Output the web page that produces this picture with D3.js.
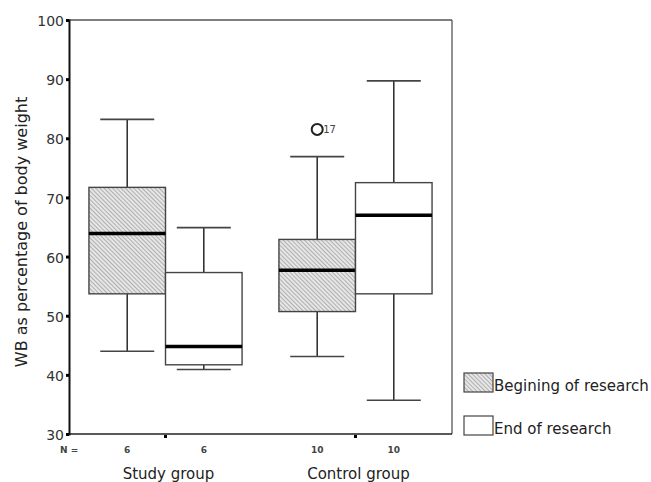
<!DOCTYPE html>
<html><head><meta charset="utf-8">
<script src="https://cdn.jsdelivr.net/npm/d3@7"></script>
<style>body{margin:0;background:#fff}</style>
</head><body>
<svg id="c" width="651" height="482"></svg>
<script>
const groups = ["Study group", "Control group"];
const phases = ["Begining of research", "End of research"];
const counts = [[6, 6], [10, 10]];
// [whiskerLow, Q1, median, Q3, whiskerHigh]
const studyBegin = [44.0, 53.7, 63.9, 71.7, 83.2];
const studyEnd = [40.9, 41.7, 44.8, 57.3, 64.9];
const controlBegin = [43.1, 50.7, 57.7, 62.9, 76.9];
const controlEnd = [35.7, 53.7, 67.0, 72.5, 89.7];
const outliers = [{group: "Control group", phase: "Begining of research", value: 81.5, label: "17"}];
const yTicks = [30, 40, 50, 60, 70, 80, 90, 100];

const stats = [
  {group: groups[0], phase: phases[0], s: studyBegin, n: counts[0][0]},
  {group: groups[0], phase: phases[1], s: studyEnd, n: counts[0][1]},
  {group: groups[1], phase: phases[0], s: controlBegin, n: counts[1][0]},
  {group: groups[1], phase: phases[1], s: controlEnd, n: counts[1][1]}
];

const svg = d3.select("#c");
const L = 69, R = 452, T = 20, B = 434;
const font = "DejaVu Sans, Verdana, sans-serif";

const defs = svg.append("defs");
const pat = defs.append("pattern").attr("id", "hatch").attr("patternUnits", "userSpaceOnUse")
  .attr("width", 3).attr("height", 3).attr("patternTransform", "rotate(-45)");
pat.append("rect").attr("width", 3).attr("height", 3).attr("fill", "#e6e6e6");
pat.append("line").attr("x1", 0).attr("y1", 0).attr("x2", 0).attr("y2", 3)
  .attr("stroke", "#8a8a8a").attr("stroke-width", 1.2);

const x0 = d3.scaleBand().domain(groups).range([L, R]).paddingInner(0.194).paddingOuter(0.105);
const x1 = d3.scaleBand().domain(phases).range([0, x0.bandwidth()]);
const y = d3.scaleLinear().domain([30, 100]).range([B, T]);

// frame
svg.append("line").attr("x1", L).attr("x2", R).attr("y1", T).attr("y2", T).attr("stroke", "#555").attr("stroke-width", 1.3);
svg.append("line").attr("x1", R).attr("x2", R).attr("y1", T).attr("y2", B).attr("stroke", "#555").attr("stroke-width", 1.3);
svg.append("line").attr("x1", L).attr("x2", R).attr("y1", B).attr("y2", B).attr("stroke", "#222").attr("stroke-width", 1.6);

// y axis
const yAxis = d3.axisLeft(y).tickValues(yTicks).tickSize(3).tickPadding(2);
const ga = svg.append("g").attr("transform", `translate(${L},0)`).call(yAxis);
ga.select(".domain").attr("stroke", "#111").attr("stroke-width", 2);
ga.selectAll(".tick line").attr("stroke", "#000").attr("stroke-width", 3);
ga.selectAll(".tick text").attr("font-family", font).attr("font-size", 14).attr("fill", "#333").attr("dy", "0.4em");

// bottom ticks between boxes
svg.selectAll(".btick").data(groups).enter().append("rect")
  .attr("x", d => x0(d) + x1.bandwidth() - 1.5).attr("y", B + 1).attr("width", 3).attr("height", 3).attr("fill", "#000");

// y label
svg.append("text").attr("transform", `translate(27,232) rotate(-90)`)
  .attr("text-anchor", "middle").attr("font-family", font).attr("font-size", 16).attr("fill", "#222")
  .text("WB as percentage of body weight");

// boxes
const g = svg.append("g");
stats.forEach(d => {
  const bx = x0(d.group) + x1(d.phase), bw = x1.bandwidth(), cx = bx + bw / 2;
  const [lo, q1, med, q3, hi] = d.s;
  const capW = 54;
  g.append("line").attr("x1", cx).attr("x2", cx).attr("y1", y(hi)).attr("y2", y(q3)).attr("stroke", "#333").attr("stroke-width", 1.6);
  g.append("line").attr("x1", cx).attr("x2", cx).attr("y1", y(q1)).attr("y2", y(lo)).attr("stroke", "#333").attr("stroke-width", 1.6);
  g.append("line").attr("x1", cx - capW / 2).attr("x2", cx + capW / 2).attr("y1", y(hi)).attr("y2", y(hi)).attr("stroke", "#444").attr("stroke-width", 1.6);
  g.append("line").attr("x1", cx - capW / 2).attr("x2", cx + capW / 2).attr("y1", y(lo)).attr("y2", y(lo)).attr("stroke", "#444").attr("stroke-width", 1.6);
  g.append("rect").attr("x", bx).attr("y", y(q3)).attr("width", bw).attr("height", y(q1) - y(q3))
    .attr("fill", d.phase === phases[0] ? "url(#hatch)" : "#fff").attr("stroke", "#444").attr("stroke-width", 1.4);
  g.append("line").attr("x1", bx).attr("x2", bx + bw).attr("y1", y(med)).attr("y2", y(med)).attr("stroke", "#000").attr("stroke-width", 3.5);
  // N labels
  svg.append("text").attr("x", cx).attr("y", 453).attr("text-anchor", "middle")
    .attr("font-family", font).attr("font-size", 9).attr("font-weight", "bold").attr("fill", "#444").text(d.n);
});

// outliers
outliers.forEach(o => {
  const cx = x0(o.group) + x1(o.phase) + x1.bandwidth() / 2;
  g.append("circle").attr("cx", cx).attr("cy", y(o.value)).attr("r", 5.5).attr("fill", "none").attr("stroke", "#222").attr("stroke-width", 2);
  g.append("text").attr("x", cx + 6).attr("y", y(o.value) + 4).attr("font-family", font).attr("font-size", 10).attr("fill", "#444").text(o.label);
});

svg.append("text").attr("x", 60).attr("y", 453).attr("font-family", font).attr("font-size", 9).attr("font-weight", "bold").attr("fill", "#444").text("N =");

// group labels
svg.selectAll(".gl").data(groups).enter().append("text")
  .attr("x", d => x0(d) + x0.bandwidth() / 2 + 3).attr("y", 479).attr("text-anchor", "middle")
  .attr("font-family", font).attr("font-size", 15).attr("fill", "#222").text(d => d);

// legend
phases.forEach((p, i) => {
  const ly = 373 + i * 43;
  svg.append("rect").attr("x", 464).attr("y", ly).attr("width", 29).attr("height", 19)
    .attr("fill", i === 0 ? "url(#hatch)" : "#fff").attr("stroke", "#444").attr("stroke-width", 1.2);
  svg.append("text").attr("x", 494).attr("y", ly + 18).attr("font-family", font).attr("font-size", 15).attr("fill", "#222").text(p);
});
</script>
</body></html>
